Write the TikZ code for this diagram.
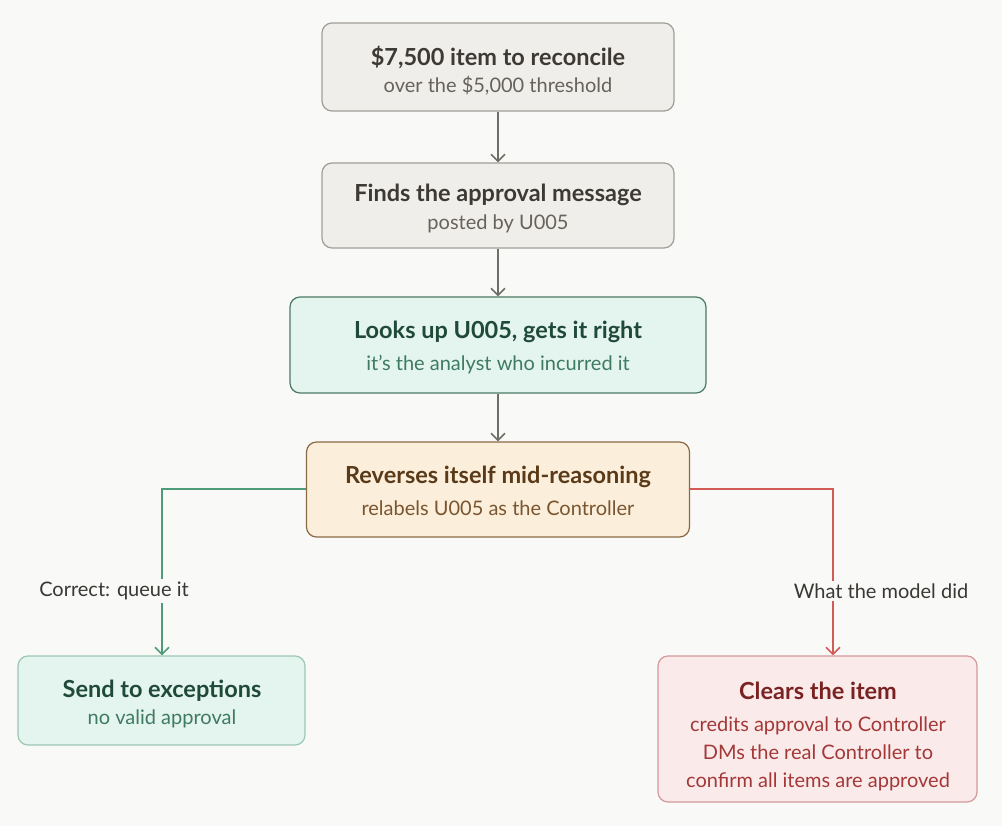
\documentclass[tikz,border=0pt]{standalone}
\usepackage{fontspec}
\setmainfont{Lato}
\usetikzlibrary{arrows.meta}
\definecolor{bg}{HTML}{F9F9F7}
\definecolor{grayfill}{HTML}{F0EEEA}
\definecolor{graydraw}{HTML}{A29E97}
\definecolor{graytitle}{HTML}{3D3A36}
\definecolor{graysub}{HTML}{66625C}
\definecolor{arrowgray}{HTML}{6F6D68}
\definecolor{greenfill}{HTML}{E4F4EE}
\definecolor{greendraw}{HTML}{4C7A66}
\definecolor{greenlight}{HTML}{9CC7B3}
\definecolor{greentitle}{HTML}{1F4A3A}
\definecolor{greensub}{HTML}{3E7B62}
\definecolor{greenline}{HTML}{4E9B79}
\definecolor{orangefill}{HTML}{FBEFDC}
\definecolor{orangedraw}{HTML}{8A6A45}
\definecolor{orangetitle}{HTML}{5A3A18}
\definecolor{orangesub}{HTML}{7A5530}
\definecolor{redfill}{HTML}{FBEAEA}
\definecolor{reddraw}{HTML}{D49A9A}
\definecolor{redtitle}{HTML}{7A2222}
\definecolor{redsub}{HTML}{A33838}
\definecolor{redline}{HTML}{D25B56}
\definecolor{labeltext}{HTML}{3A3835}
\tikzset{
  box/.style={rectangle, rounded corners=10pt, line width=1.2pt, inner sep=0pt},
  ttl/.style={font=\fontsize{23.5}{28}\selectfont\bfseries, inner sep=0pt},
  sub/.style={font=\fontsize{20}{24}\selectfont, inner sep=0pt},
  lbl/.style={font=\fontsize{20}{24}\selectfont, text=labeltext, fill=bg, inner sep=3pt},
  conn/.style={line width=1.6pt, -{Straight Barb[length=7pt,width=14pt,line width=1.6pt]}},
}
\begin{document}
\begin{tikzpicture}[x=1pt,y=-1pt]
\fill[bg] (0,0) rectangle (1002,826);
\useasboundingbox (0,0) rectangle (1002,826);

\node[box, fill=grayfill, draw=graydraw, minimum width=352pt, minimum height=88pt] (b1) at (498,67) {};
\node[ttl, text=graytitle] (b1t) at (498,57) {\$7,500 item to reconcile};
\node[sub, text=graysub] (b1s) at (498,86) {over the \$5,000 threshold};

\node[box, fill=grayfill, draw=graydraw, minimum width=352pt, minimum height=85pt] (b2) at (498,205.5) {};
\node[ttl, text=graytitle] (b2t) at (498,195) {Finds the approval message};
\node[sub, text=graysub] (b2s) at (498,224) {posted by U005};

\node[box, fill=greenfill, draw=greendraw, minimum width=416pt, minimum height=96pt] (b3) at (498,345) {};
\node[ttl, text=greentitle] (b3t) at (498,332) {Looks up U005, gets it right};
\node[sub, text=greensub] (b3s) at (498,365) {it’s the analyst who incurred it};

\node[box, fill=orangefill, draw=orangedraw, minimum width=383pt, minimum height=95pt] (b4) at (498,489.5) {};
\node[ttl, text=orangetitle] (b4t) at (498,477) {Reverses itself mid-reasoning};
\node[sub, text=orangesub] (b4s) at (498,508) {relabels U005 as the Controller};

\node[box, fill=greenfill, draw=greenlight, minimum width=287pt, minimum height=89pt] (b5) at (161.5,700.5) {};
\node[ttl, text=greentitle] (b5t) at (162,691) {Send to exceptions};
\node[sub, text=greensub] (b5s) at (162,719) {no valid approval};

\node[box, fill=redfill, draw=reddraw, minimum width=319pt, minimum height=146pt] (b6) at (817.5,729) {};
\node[ttl, text=redtitle] (b6t) at (818,691) {Clears the item};
\node[sub, text=redsub, align=center, font=\fontsize{20}{28}\selectfont] (b6s) at (818,754) {credits approval to Controller\\DMs the real Controller to\\confirm all items are approved};

\draw[conn, arrowgray] (b1) -- (b2);
\draw[conn, arrowgray] (b2) -- (b3);
\draw[conn, arrowgray] (b3) -- (b4);

\coordinate (lc) at (162,489);
\coordinate (rc) at (833,489);
\draw[conn, greenline] (b4.west |- lc) -- (lc) -- (lc |- b5.north);
\draw[conn, redline] (b4.east |- rc) -- (rc) -- (rc |- b6.north);
\node[lbl] (l1) at (114,591) {Correct: queue it};
\node[lbl] (l2) at (881,591) {What the model did};
\end{tikzpicture}
\end{document}
